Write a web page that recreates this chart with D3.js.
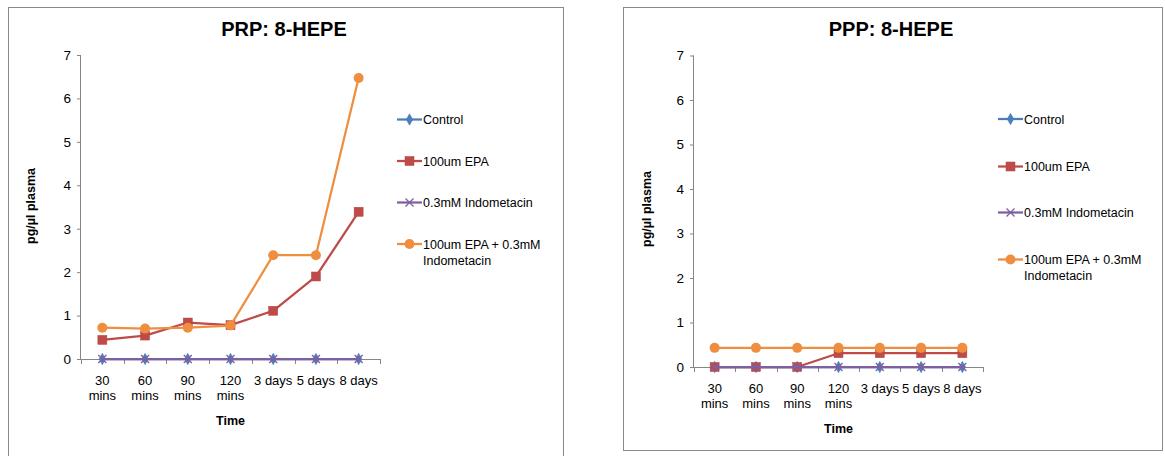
<!DOCTYPE html>
<html>
<head>
<meta charset="utf-8">
<script src="https://cdn.jsdelivr.net/npm/d3@7"></script>
<style>
  html, body { margin: 0; padding: 0; background: #fff; }
  svg { display: block; font-family: "Liberation Sans", Arial, sans-serif; }
</style>
</head>
<body>
<svg id="chart" width="1165" height="456"></svg>
<script>
// Time points (two-line tick labels)
const timepoints = ["30 mins", "60 mins", "90 mins", "120 mins", "3 days", "5 days", "8 days"];
const tickLines = [["30", "mins"], ["60", "mins"], ["90", "mins"], ["120", "mins"], ["3 days"], ["5 days"], ["8 days"]];
const yTicks = [0, 1, 2, 3, 4, 5, 6, 7];

const seriesNames = ["Control", "100um EPA", "0.3mM Indometacin", "100um EPA + 0.3mM Indometacin"];
const seriesColors = ["#4A7EBB", "#BE4B48", "#7D60A0", "#EE8E3E"];
const seriesMarkers = ["diamond", "square", "cross", "circle"];

// PRP: 8-HEPE (pg/µl plasma)
const prpControl = [0, 0, 0, 0, 0, 0, 0];
const prpEPA = [0.44, 0.54, 0.84, 0.78, 1.11, 1.90, 3.39];
const prpIndo = [0, 0, 0, 0, 0, 0, 0];
const prpEPAIndo = [0.72, 0.70, 0.72, 0.77, 2.39, 2.39, 6.47];

// PPP: 8-HEPE (pg/µl plasma)
const pppControl = [0, 0, 0, 0, 0, 0, 0];
const pppEPA = [0, 0, 0, 0.31, 0.31, 0.31, 0.31];
const pppIndo = [0, 0, 0, 0, 0, 0, 0];
const pppEPAIndo = [0.43, 0.43, 0.43, 0.43, 0.43, 0.43, 0.43];

const svg = d3.select("#chart");
const axisColor = "#868686";

function drawMarker(g, type, x, y, color) {
  if (type === "diamond") {
    g.append("path")
      .attr("d", d3.symbol(d3.symbolDiamond, 38)())
      .attr("transform", `translate(${x},${y})`)
      .attr("fill", color).attr("stroke", color).attr("stroke-width", 0.5);
  } else if (type === "square") {
    g.append("rect")
      .attr("x", x - 4.5).attr("y", y - 4.5).attr("width", 9).attr("height", 9)
      .attr("fill", color).attr("stroke", d3.color(color).darker(0.2)).attr("stroke-width", 0.5);
  } else if (type === "cross") {
    const s = 4;
    g.append("path")
      .attr("d", `M${x - s},${y - s}L${x + s},${y + s}M${x - s},${y + s}L${x + s},${y - s}`)
      .attr("stroke", color).attr("stroke-width", 1.3).attr("fill", "none");
  } else {
    g.append("circle").attr("cx", x).attr("cy", y).attr("r", 5)
      .attr("fill", color);
  }
}

function drawPanel(cfg) {
  const { box, title, titleX, series, plot, yLabelX, yLabelY, legend } = cfg;

  // Chart area frame
  svg.append("rect")
    .attr("x", box.x + 0.5).attr("y", box.y + 0.5)
    .attr("width", box.w).attr("height", box.h)
    .attr("fill", "#fff").attr("stroke", "#8a8a8a").attr("stroke-width", 1);

  svg.append("text")
    .attr("x", titleX).attr("y", box.y + 29)
    .attr("text-anchor", "middle")
    .attr("font-size", 20).attr("font-weight", "bold")
    .text(title);

  const x = d3.scaleBand().domain(timepoints).range([plot.x0, plot.x1]);
  const y = d3.scaleLinear().domain([0, 7]).range([plot.y0, plot.y1]);

  const g = svg.append("g");

  // Y axis
  const yAxis = g.append("g").attr("transform", `translate(${plot.x0},0)`)
    .call(d3.axisLeft(y).tickValues(yTicks).tickSize(4).tickPadding(6).tickFormat(d3.format("d")));
  yAxis.select(".domain").attr("stroke", axisColor).attr("d", `M-0.5,${plot.y1}V${plot.y0}`);
  yAxis.selectAll(".tick line").attr("stroke", axisColor);
  yAxis.selectAll(".tick text").attr("font-size", 13.5).attr("fill", "#000")
    .attr("font-family", "Liberation Sans, Arial, sans-serif");

  // X axis with ticks at category boundaries
  const xAxis = g.append("g").attr("transform", `translate(0,${plot.y0})`);
  xAxis.append("line").attr("x1", plot.x0).attr("x2", plot.x1).attr("y1", 0.5).attr("y2", 0.5)
    .attr("stroke", axisColor);
  const bounds = timepoints.map(t => x(t)).concat([plot.x1]);
  xAxis.selectAll("line.tk").data(bounds).enter().append("line")
    .attr("class", "tk")
    .attr("x1", d => Math.round(d) + 0.5).attr("x2", d => Math.round(d) + 0.5)
    .attr("y1", 0).attr("y2", 5).attr("stroke", axisColor);
  timepoints.forEach((t, i) => {
    const tx = xAxis.append("text")
      .attr("x", x(t) + x.bandwidth() / 2).attr("y", 26)
      .attr("text-anchor", "middle").attr("font-size", 13);
    tickLines[i].forEach((ln, j) => {
      tx.append("tspan").attr("x", x(t) + x.bandwidth() / 2).attr("dy", j === 0 ? 0 : 15).text(ln);
    });
  });

  svg.append("text")
    .attr("x", (plot.x0 + plot.x1) / 2).attr("y", plot.y0 + 66)
    .attr("text-anchor", "middle").attr("font-size", 12.5).attr("font-weight", "bold")
    .text("Time");

  svg.append("text")
    .attr("transform", `translate(${yLabelX},${yLabelY}) rotate(-90)`)
    .attr("text-anchor", "middle").attr("font-size", 12.5).attr("font-weight", "bold")
    .text("pg/µl plasma");

  // Series lines and markers
  const line = d3.line().x((d, i) => x(timepoints[i]) + x.bandwidth() / 2).y(d => y(d));
  series.forEach((vals, si) => {
    const sg = g.append("g");
    sg.append("path").datum(vals).attr("d", line)
      .attr("fill", "none").attr("stroke", seriesColors[si]).attr("stroke-width", 2.25)
      .attr("stroke-linejoin", "round");
    vals.forEach((v, i) => drawMarker(sg, seriesMarkers[si], x(timepoints[i]) + x.bandwidth() / 2, y(v), seriesColors[si]));
  });

  // Legend
  const lg = svg.append("g");
  seriesNames.forEach((name, si) => {
    const ly = legend.rows[si];
    lg.append("line").attr("x1", legend.x).attr("x2", legend.x + 25)
      .attr("y1", ly).attr("y2", ly)
      .attr("stroke", seriesColors[si]).attr("stroke-width", 2.25);
    drawMarker(lg, seriesMarkers[si], legend.x + 12.5, ly, seriesColors[si]);
    const tx = lg.append("text").attr("x", legend.x + 26).attr("y", ly + 4.5)
      .attr("font-size", 12.5);
    if (si === 3) {
      tx.append("tspan").attr("x", legend.x + 26).text("100um EPA + 0.3mM");
      tx.append("tspan").attr("x", legend.x + 26).attr("dy", legend.lineGap).text("Indometacin");
    } else {
      tx.text(name);
    }
  });
}

drawPanel({
  box: { x: 8, y: 7, w: 555, h: 460 },
  title: "PRP: 8-HEPE",
  titleX: 284,
  series: [prpControl, prpEPA, prpIndo, prpEPAIndo],
  plot: { x0: 81, x1: 380, y0: 359, y1: 55 },
  yLabelX: 35, yLabelY: 206,
  legend: { x: 397, rows: [119.5, 161, 202.5, 244], lineGap: 16 }
});

drawPanel({
  box: { x: 623, y: 7, w: 539, h: 443 },
  title: "PPP: 8-HEPE",
  titleX: 891,
  series: [pppControl, pppEPA, pppIndo, pppEPAIndo],
  plot: { x0: 694, x1: 983, y0: 367, y1: 55.5 },
  yLabelX: 651, yLabelY: 209,
  legend: { x: 998, rows: [119, 166.5, 212.5, 259.5], lineGap: 16 }
});
</script>
</body>
</html>
